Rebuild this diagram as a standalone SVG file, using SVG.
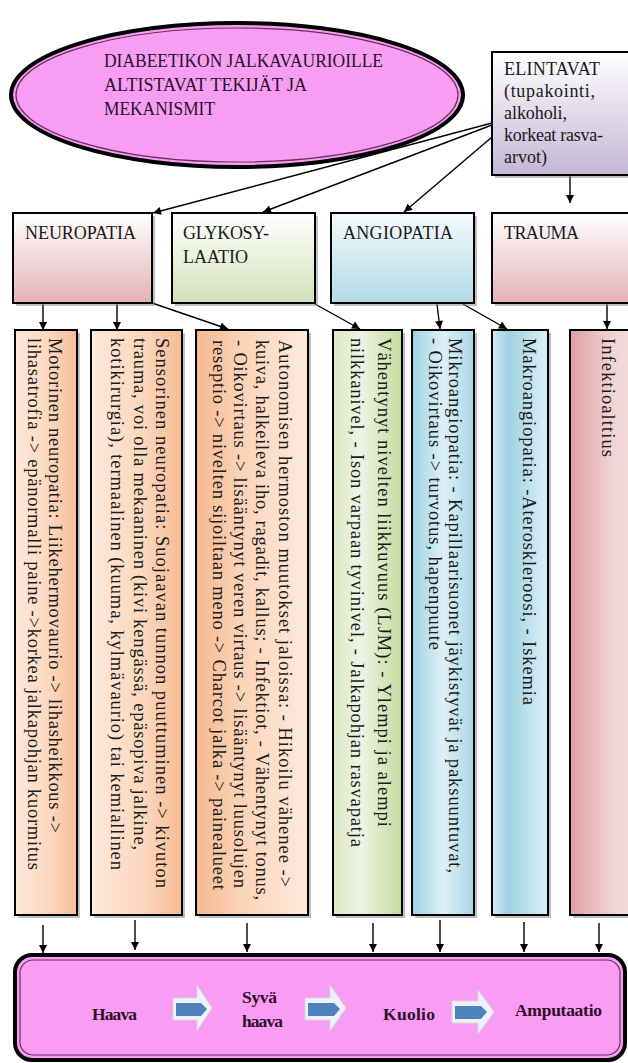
<svg xmlns="http://www.w3.org/2000/svg" width="628" height="1063" viewBox="0 0 628 1063">
<defs>
<style>
text{font-family:"Liberation Serif","Times New Roman",serif;fill:#1a1a1a}
.ttl{font-size:18.5px;fill:#2a1030}
.hd{font-size:18px}
.col{font-size:18.5px}
.bt{font-size:17.5px;font-weight:bold;fill:#2e0f2a}
.box{stroke:#000;stroke-width:2}
.sh{fill:#8a8a8a;opacity:0.55}
.con{stroke:#000;stroke-width:1.4;fill:none;marker-end:url(#ah)}
.bar{fill:#eef1f7;stroke:#d3d8e4;stroke-width:1}
.bin{fill:#4f81bd}
</style>
<marker id="ah" viewBox="0 0 10 10" refX="10" refY="5" markerWidth="9" markerHeight="8" markerUnits="userSpaceOnUse" orient="auto"><path d="M0,0 L10,5 L0,10 z" fill="#000"/></marker>
<linearGradient id="gEl" x1="0" y1="0" x2="0" y2="1"><stop offset="0" stop-color="#ffffff"/><stop offset="1" stop-color="#c4b6d6"/></linearGradient>
<linearGradient id="gPink" x1="0" y1="0" x2="0" y2="1"><stop offset="0" stop-color="#ffffff"/><stop offset="1" stop-color="#e5b1b5"/></linearGradient>
<linearGradient id="gGreen" x1="0" y1="0" x2="0" y2="1"><stop offset="0" stop-color="#ffffff"/><stop offset="1" stop-color="#d3e2b8"/></linearGradient>
<linearGradient id="gBlue" x1="0" y1="0" x2="0" y2="1"><stop offset="0" stop-color="#f4fafc"/><stop offset="1" stop-color="#b2dbe7"/></linearGradient>
<linearGradient id="cOrR" x1="0" y1="0" x2="1" y2="0"><stop offset="0" stop-color="#fde9da"/><stop offset="0.6" stop-color="#fbd6bb"/><stop offset="1" stop-color="#f6bb92"/></linearGradient>
<linearGradient id="cOrL" x1="0" y1="0" x2="1" y2="0"><stop offset="0" stop-color="#f6b98e"/><stop offset="0.4" stop-color="#fad3b7"/><stop offset="1" stop-color="#fdeade"/></linearGradient>
<linearGradient id="cGreen" x1="0" y1="0" x2="1" y2="0"><stop offset="0" stop-color="#dbe8c4"/><stop offset="0.4" stop-color="#eef4e4"/><stop offset="1" stop-color="#c6da9e"/></linearGradient>
<linearGradient id="cBlue" x1="0" y1="0" x2="1" y2="0"><stop offset="0" stop-color="#9dd2e2"/><stop offset="0.5" stop-color="#dff0f6"/><stop offset="1" stop-color="#a8d7e5"/></linearGradient>
<linearGradient id="cBlue2" x1="0" y1="0" x2="1" y2="0"><stop offset="0" stop-color="#d6edf4"/><stop offset="0.3" stop-color="#9ed2e2"/><stop offset="1" stop-color="#dff0f6"/></linearGradient>
<linearGradient id="cPink" x1="0" y1="0" x2="1" y2="0"><stop offset="0" stop-color="#e0a0a4"/><stop offset="0.6" stop-color="#f0d4d4"/><stop offset="1" stop-color="#f4e0e0"/></linearGradient>
</defs>

<g id="connectors">
<line class="con" x1="492" y1="123" x2="153" y2="213"/>
<line class="con" x1="492" y1="125" x2="263" y2="212"/>
<line class="con" x1="492" y1="137" x2="404" y2="212"/>
<line class="con" x1="570" y1="176" x2="570" y2="203"/>
<line class="con" x1="43" y1="304" x2="43" y2="330"/>
<line class="con" x1="117" y1="304" x2="117" y2="330"/>
<line class="con" x1="152" y1="303" x2="228" y2="329"/>
<line class="con" x1="315" y1="304" x2="360" y2="329"/>
<line class="con" x1="437" y1="304" x2="440" y2="329"/>
<line class="con" x1="463" y1="304" x2="507" y2="329"/>
<line class="con" x1="607" y1="304" x2="607" y2="329"/>
<line class="con" x1="43" y1="925" x2="43" y2="953"/>
<line class="con" x1="135" y1="920" x2="135" y2="950"/>
<line class="con" x1="247" y1="923" x2="247" y2="952"/>
<line class="con" x1="373" y1="923" x2="373" y2="952"/>
<line class="con" x1="440" y1="920" x2="440" y2="952"/>
<line class="con" x1="524" y1="922" x2="524" y2="952"/>
<line class="con" x1="599" y1="923" x2="599" y2="952"/>
</g>

<g id="title">
<ellipse cx="237" cy="95" rx="226" ry="72" fill="#f89ef2" stroke="#000" stroke-width="4"/>
<ellipse cx="237" cy="95" rx="221" ry="67" fill="none" stroke="#6a2c64" stroke-width="1.2"/>
<text class="ttl" x="104" y="67" textLength="279" lengthAdjust="spacingAndGlyphs">DIABEETIKON JALKAVAURIOILLE</text>
<text class="ttl" x="104" y="91" textLength="203" lengthAdjust="spacingAndGlyphs">ALTISTAVAT TEKIJÄT JA</text>
<text class="ttl" x="104" y="115" textLength="111" lengthAdjust="spacingAndGlyphs">MEKANISMIT</text>
</g>

<g id="elintavat">
<rect class="sh" x="495" y="55" width="150" height="123"/>
<rect class="box" x="492" y="52" width="150" height="123" fill="url(#gEl)"/>
<text class="hd" x="504" y="75" textLength="96">ELINTAVAT</text>
<text class="hd" x="504" y="97" textLength="91">(tupakointi,</text>
<text class="hd" x="504" y="119" textLength="63">alkoholi,</text>
<text class="hd" x="504" y="141" textLength="99">korkeat rasva-</text>
<text class="hd" x="504" y="163" textLength="43">arvot)</text>
</g>

<g id="neuropatia">
<rect class="sh" x="16" y="216" width="139" height="90"/>
<rect class="box" x="13" y="213" width="139" height="90" fill="url(#gPink)"/>
<text class="hd" x="25" y="239" textLength="111">NEUROPATIA</text>
</g>
<g id="glykosylaatio">
<rect class="sh" x="175" y="216" width="143" height="90"/>
<rect class="box" x="172" y="213" width="143" height="90" fill="url(#gGreen)"/>
<text class="hd" x="183" y="239" textLength="86">GLYKOSY-</text>
<text class="hd" x="183" y="263" textLength="65">LAATIO</text>
</g>
<g id="angiopatia">
<rect class="sh" x="334" y="216" width="143" height="90"/>
<rect class="box" x="331" y="213" width="143" height="90" fill="url(#gBlue)"/>
<text class="hd" x="343" y="239" textLength="110">ANGIOPATIA</text>
</g>
<g id="trauma">
<rect class="sh" x="495" y="216" width="150" height="90"/>
<rect class="box" x="492" y="213" width="150" height="90" fill="url(#gPink)"/>
<text class="hd" x="504" y="239" textLength="75">TRAUMA</text>
</g>

<g id="motorinen">
<rect class="sh" x="18" y="333" width="62" height="585"/>
<rect class="box" x="15" y="330" width="62" height="585" fill="url(#cOrR)"/>
<text class="col" transform="translate(49,338) rotate(90)" textLength="495">Motorinen neuropatia: Liikehermovaurio -&gt; lihasheikkous -&gt;</text>
<text class="col" transform="translate(28,338) rotate(90)" textLength="532">lihasatrofia -&gt; epänormalli paine -&gt;korkea jalkapohjan kuormitus</text>
</g>
<g id="sensorinen">
<rect class="sh" x="94" y="333" width="91" height="585"/>
<rect class="box" x="91" y="330" width="91" height="585" fill="url(#cOrR)"/>
<text class="col" transform="translate(156,338) rotate(90)" textLength="550">Sensorinen neuropatia: Suojaavan tunnon puuttuminen -&gt; kivuton</text>
<text class="col" transform="translate(134,338) rotate(90)" textLength="512">trauma, voi olla mekaaninen (kivi kengässä, epäsopiva jalkine,</text>
<text class="col" transform="translate(111,338) rotate(90)" textLength="532">kotikirurgia), termaalinen (kuuma, kylmävaurio) tai kemiallinen</text>
</g>
<g id="autonominen">
<rect class="sh" x="199" y="333" width="112" height="585"/>
<rect class="box" x="196" y="330" width="112" height="585" fill="url(#cOrL)"/>
<text class="col" transform="translate(279,340) rotate(90)" textLength="547">Autonomisen hermoston muutokset jaloissa: - Hikoilu vähenee -&gt;</text>
<text class="col" transform="translate(256,340) rotate(90)" textLength="560">kuiva, halkeileva iho, ragadit, kallus; - Infektiot, - Vähentynyt tonus,</text>
<text class="col" transform="translate(234,340) rotate(90)" textLength="548">- Oikovirtaus -&gt; lisääntynyt veren virtaus -&gt; lisääntynyt luusolujen</text>
<text class="col" transform="translate(213,340) rotate(90)" textLength="550">reseptio -&gt; nivelten sijoiltaan meno -&gt; Charcot jalka -&gt; painealueet</text>
</g>
<g id="ljm">
<rect class="sh" x="336" y="333" width="69" height="585"/>
<rect class="box" x="333" y="330" width="69" height="585" fill="url(#cGreen)"/>
<text class="col" transform="translate(378,338) rotate(90)" textLength="489">Vähentynyt nivelten liikkuvuus (LJM): - Ylempi ja alempi</text>
<text class="col" transform="translate(351,338) rotate(90)" textLength="509">nilkkanivel, - Ison varpaan tyvinivel, - Jalkapohjan rasvapatja</text>
</g>
<g id="mikroangiopatia">
<rect class="sh" x="415" y="333" width="62" height="585"/>
<rect class="box" x="412" y="330" width="62" height="585" fill="url(#cBlue)"/>
<text class="col" transform="translate(449,338) rotate(90)" textLength="535">Mikroangiopatia: - Kapillaarisuonet jäykistyvät ja paksuuntuvat,</text>
<text class="col" transform="translate(429,338) rotate(90)" textLength="312">- Oikovirtaus -&gt; turvotus, hapenpuute</text>
</g>
<g id="makroangiopatia">
<rect class="sh" x="495" y="333" width="56" height="585"/>
<rect class="box" x="492" y="330" width="56" height="585" fill="url(#cBlue2)"/>
<text class="col" transform="translate(523,338) rotate(90)" textLength="367">Makroangiopatia: -Ateroskleroosi, - Iskemia</text>
</g>
<g id="infektio">
<rect class="sh" x="573" y="333" width="70" height="585"/>
<rect class="box" x="570" y="330" width="70" height="585" fill="url(#cPink)"/>
<text class="col" transform="translate(602,338) rotate(90)" textLength="119">Infektioalttius</text>
</g>

<g id="outcome">
<rect x="15" y="955" width="610" height="105" rx="17" fill="#f99cf4" stroke="#000" stroke-width="4"/>
<rect x="20" y="960" width="600" height="95" rx="13" fill="none" stroke="#6a2c64" stroke-width="1.2"/>
<text class="bt" x="92" y="1020" textLength="45">Haava</text>
<text class="bt" x="242" y="1003" textLength="35">Syvä</text>
<text class="bt" x="242" y="1027" textLength="41">haava</text>
<text class="bt" x="383" y="1020" textLength="52">Kuolio</text>
<text class="bt" x="515" y="1016" textLength="87">Amputaatio</text>
<g id="arrow1">
<polygon class="bar" points="173,998 197,998 197,985 212,1008 197,1031 197,1020 173,1020"/>
<polygon class="bin" points="176,1003 201,1003 207,1009 201,1016 176,1016"/>
</g>
<g id="arrow2">
<polygon class="bar" points="305,998 330,998 330,985 346,1008 330,1031 330,1020 305,1020"/>
<polygon class="bin" points="308,1003 334,1003 340,1009 334,1016 308,1016"/>
</g>
<g id="arrow3">
<polygon class="bar" points="452,1001 478,1001 478,990 494,1012 478,1034 478,1023 452,1023"/>
<polygon class="bin" points="455,1006 481,1006 487,1012 481,1019 455,1019"/>
</g>
</g>
</svg>
